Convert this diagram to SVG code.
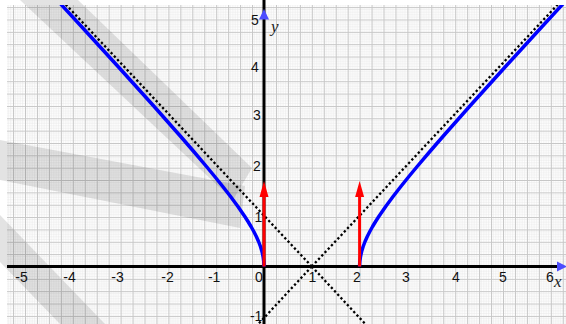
<svg xmlns="http://www.w3.org/2000/svg" width="566" height="324" viewBox="0 0 566 324">
  <style>
    .tick { font-family: "Liberation Sans", Arial, sans-serif; font-size: 14px; fill: #111; text-anchor: end; }
    .axlab { font-family: "Liberation Serif", "Times New Roman", serif; font-size: 17px; font-style: italic; fill: #222; }
    .band { fill: #000; fill-opacity: 0.11; }
    .asym { fill: none; stroke: #000; stroke-width: 2.3; stroke-dasharray: 2.3 2.4; }
    .curve { fill: none; stroke: #0000ff; stroke-width: 3.5; stroke-linejoin: round; }
    .vec { stroke: #ff0000; stroke-width: 3; fill: none; }
    .vechead { fill: #ff0000; }
    .axis { stroke: #000; stroke-width: 3; fill: none; }
    .axhead { fill: #4d4dff; }
  </style>
  <defs>
    <pattern id="gridpat" patternUnits="userSpaceOnUse" x="264" y="266.5" width="11.95" height="12.35">
      <path d="M2.39 0V12.35M4.78 0V12.35M7.17 0V12.35M9.56 0V12.35M0 2.47H11.95M0 4.94H11.95M0 7.41H11.95M0 9.88H11.95" stroke="#e6e6e6" stroke-width="0.5"/>
      <path d="M0.5 0V12.35M0 0.5H11.95" stroke="#c6c6c6" stroke-width="1"/>
    </pattern>
    <clipPath id="plotclip">
      <rect x="7" y="5" width="559" height="319"/>
    </clipPath>
  </defs>

  <rect x="0" y="0" width="566" height="324" fill="#ffffff"/>

  <g id="grid">
    <rect x="7" y="5" width="559" height="319" fill="url(#gridpat)"/>
  </g>

  <g id="bands">
    <polygon class="band" points="20,0 78,0 252,168 233,200"/>
    <polygon class="band" points="0,140 245,186 240,228 0,180"/>
    <polygon class="band" points="0,215 105,324 60,324 0,262"/>
  </g>

  <g id="axes">
    <line class="axis" x1="7" y1="266.5" x2="560" y2="266.5"/>
    <line class="axis" x1="264" y1="0" x2="264" y2="324"/>
    <polygon class="axhead" points="567,266.5 557,261.5 557,271.5"/>
    <polygon class="axhead" points="264,9 259,19.5 269,19.5"/>
  </g>

  <g id="asymptotes" clip-path="url(#plotclip)">
    <line class="asym" x1="311.8" y1="266.5" x2="65.8" y2="4.5"/>
    <line class="asym" x1="311.8" y1="266.5" x2="365.3" y2="324"/>
    <line class="asym" x1="311.8" y1="266.5" x2="557.8" y2="4.5"/>
    <line class="asym" x1="311.8" y1="266.5" x2="258.3" y2="324"/>
  </g>

  <g id="curves" clip-path="url(#plotclip)">
    <polyline id="branch-left" class="curve" points="264,266.5 263.94,264 263.77,261.5 263.09,256.5 261.97,251.5 260.44,246.5 258.55,241.5 256.32,236.5 253.79,231.5 251.01,226.5 248.0,221.5 244.8,216.5 237.91,206.5 230.53,196.5 222.76,186.5 214.71,176.5 206.44,166.5 193.71,151.5 180.7,136.5 154.15,106.5 118.02,66.5 81.44,26.5 53.81,-3.5"/>
    <polyline id="branch-right" class="curve" points="359.6,266.5 359.66,264 359.83,261.5 360.51,256.5 361.63,251.5 363.16,246.5 365.05,241.5 367.28,236.5 369.81,231.5 372.59,226.5 375.6,221.5 378.8,216.5 385.69,206.5 393.07,196.5 400.84,186.5 408.89,176.5 417.16,166.5 429.89,151.5 442.9,136.5 469.45,106.5 505.58,66.5 542.16,26.5 569.79,-3.5"/>
  </g>

  <g id="vectors">
    <g id="vec-left">
      <line class="vec" x1="264" y1="266.5" x2="264" y2="194"/>
      <polygon class="vechead" points="264,181 259.5,197 268.5,197"/>
    </g>
    <g id="vec-right">
      <line class="vec" x1="359.6" y1="266.5" x2="359.6" y2="194"/>
      <polygon class="vechead" points="359.6,181 355.1,197 364.1,197"/>
    </g>
  </g>

  <g id="labels">
    <text class="tick" x="27.7" y="282">-5</text>
    <text class="tick" x="75.7" y="282">-4</text>
    <text class="tick" x="123.7" y="282">-3</text>
    <text class="tick" x="173.7" y="282">-2</text>
    <text class="tick" x="220.4" y="282">-1</text>
    <text class="tick" x="262.7" y="282">0</text>
    <text class="tick" x="316.4" y="282">1</text>
    <text class="tick" x="360.7" y="282">2</text>
    <text class="tick" x="409.7" y="282">3</text>
    <text class="tick" x="459.7" y="282">4</text>
    <text class="tick" x="506.7" y="282">5</text>
    <text class="tick" x="553.7" y="282">6</text>

    <text class="tick" x="258.7" y="25">5</text>
    <text class="tick" x="258.7" y="72">4</text>
    <text class="tick" x="260.7" y="120">3</text>
    <text class="tick" x="260.7" y="171">2</text>
    <text class="tick" x="262.4" y="222">1</text>
    <text class="tick" x="262.4" y="321">-1</text>

    <text class="axlab" x="271" y="32">y</text>
    <text class="axlab" x="554" y="287">x</text>
  </g>
</svg>
